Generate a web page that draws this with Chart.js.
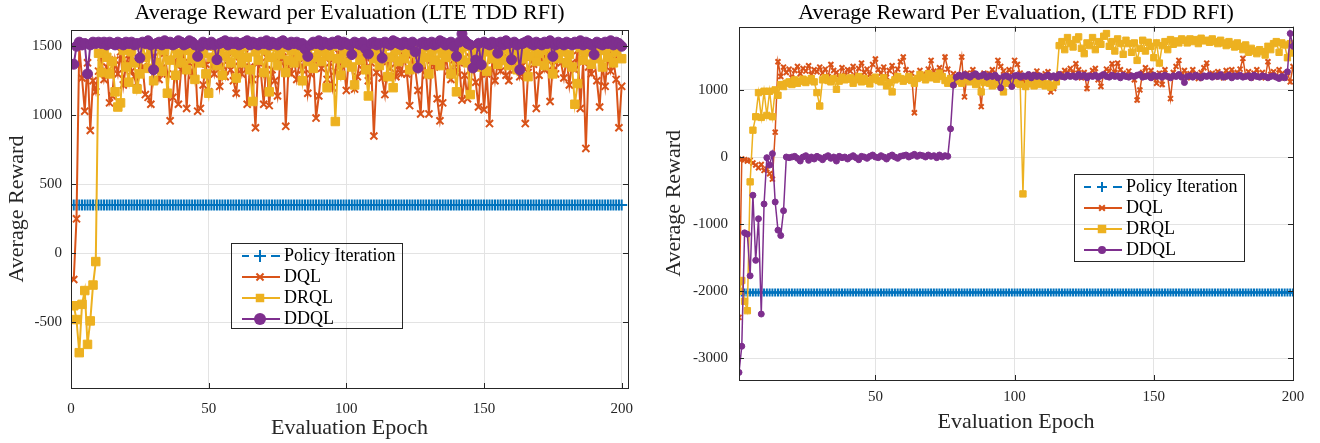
<!DOCTYPE html>
<html>
<head>
<meta charset="utf-8">
<script src="https://cdn.jsdelivr.net/npm/chart.js@4.4.1/dist/chart.umd.min.js"></script>
<style>
  body { margin: 0; background: #fff; }
  .panel { position: absolute; top: 0; width: 660px; height: 443px; }
</style>
</head>
<body>
<div class="panel" style="left:0"><canvas id="tddChart" width="660" height="443"></canvas></div>
<div class="panel" style="left:660px"><canvas id="fddChart" width="660" height="443"></canvas></div>
<script>
// evaluation epochs 1..200
const epochs = Array.from({ length: 200 }, (_, i) => i + 1);
const seriesNames = ["Policy Iteration", "DQL", "DRQL", "DDQL"];

// ---- LTE TDD RFI ----
const tddPolicyLevel = 350;
const tddDql = [
  -190, 250, 1500, 1270, 1030, 1380, 890, 1250, 1170, 1320,
  1420, 1260, 1350, 1090, 1140, 1400, 1300, 1460, 1220, 1370,
  1440, 1320, 1280, 1200, 1410, 1350, 1150, 1130, 1080, 1460,
  1390, 1260, 1340, 1450, 1300, 960, 1130, 1400, 1080, 1330,
  1470, 1050, 1380, 1290, 1420, 1030, 1050, 1220, 1370, 1170,
  1400, 1300, 1450, 1210, 1360, 1280, 1420, 1330, 1250, 1160,
  1390, 1300, 1440, 1080, 1350, 1260, 910, 1380, 1300, 1080,
  1420, 1070, 1330, 1250, 1140, 1390, 1460, 920, 1350, 1300,
  1420, 1260, 1380, 1330, 1450, 1160, 1300, 1400, 980, 1140,
  1340, 1430, 1260, 1380, 1200, 1320, 1450, 1290, 1390, 1180,
  1430, 1350, 1190, 1280, 1420, 1330, 1460, 1250, 1380, 850,
  1310, 1420, 1270, 1150, 1390, 1340, 1460, 1280, 1360, 1300,
  1430, 1300, 1070, 1400, 1340, 1180, 1010, 1420, 1290, 1010,
  1400, 1350, 1120, 960, 1090, 1440, 1320, 1260, 1400, 1310,
  1380, 1110, 1290, 1120, 1420, 1350, 1240, 1060, 1380, 1040,
  1300, 940, 1400, 1250, 1380, 1320, 1450, 1290, 1250, 1400,
  1330, 1430, 1280, 1360, 940, 1310, 1420, 1370, 1050, 1290,
  1400, 1330, 1450, 1100, 1360, 1300, 1440, 1380, 1270, 1420,
  1220, 1380, 1330, 1470, 1050, 1390, 760, 1350, 1300, 1420,
  1250, 1060, 1380, 1210, 1440, 1320, 1400, 1260, 910, 1210,
];
const tddDrql = [
  -380, -480, -720, -370, -270, -660, -490, -230, -60, 1450,
  1310, 1480, 1420, 1300, 1390, 1170, 1060, 1090, 1470, 1350,
  1240, 1460, 1380, 1190, 1300, 1510, 1420, 1340, 1480, 1250,
  1380, 1500, 1320, 1470, 1160, 1400, 1510, 1290, 1450, 1380,
  1500, 1330, 1470, 1410, 1260, 1490, 1380, 1450, 1300, 1160,
  1420, 1500, 1360, 1470, 1290, 1430, 1500, 1380, 1470, 1270,
  1440, 1380, 1500, 1420, 1330, 1100, 1460, 1400, 1500, 1310,
  1470, 1170, 1420, 1500, 1360, 1440, 1490, 1310, 1400, 1470,
  1380, 1500, 1430, 1250, 1460, 1390, 1500, 1340, 1420, 1480,
  1390, 1460, 1200, 1430, 1500, 955, 1410, 1290, 1470, 1380,
  1460, 1350, 1220, 1480, 1400, 1500, 1330, 1140, 1450, 1410,
  1490, 1360, 1440, 1500, 1280, 1420, 1200, 1470, 1390, 1500,
  1410, 1460, 1330, 1500, 1340, 1440, 1380, 1490, 1420, 1300,
  1470, 1400, 1500, 1360, 1450, 1420, 1490, 1300, 1430, 1170,
  1460, 1400, 1500, 1380, 1150, 1440, 1490, 1350, 1420, 1460,
  1320, 1480, 1410, 1500, 1370, 1450, 1400, 1490, 1360, 1440,
  1500, 1330, 1460, 1410, 1490, 1280, 1430, 1500, 1390, 1450,
  1470, 1360, 1500, 1420, 1300, 1480, 1410, 1460, 1500, 1380,
  1440, 1350, 1080, 1230, 1490, 1400, 1460, 1500, 1370, 1450,
  1410, 1490, 1350, 1470, 1420, 1500, 1380, 1460, 1500, 1410,
];
const tddDdql = [
  1370, 1500, 1530, 1510, 1520, 1300, 1510, 1530, 1520, 1530,
  1520, 1530, 1510, 1530, 1520, 1510, 1530, 1520, 1510, 1530,
  1520, 1530, 1510, 1520, 1415, 1530, 1520, 1540, 1510, 1330,
  1520, 1530, 1510, 1540, 1520, 1530, 1510, 1520, 1540, 1530,
  1510, 1520, 1540, 1530, 1510, 1427, 1500, 1530, 1520, 1510,
  1530, 1510, 1403, 1520, 1530, 1540, 1510, 1530, 1520, 1530,
  1510, 1520, 1530, 1540, 1510, 1530, 1520, 1510, 1530, 1520,
  1540, 1510, 1530, 1520, 1510, 1530, 1540, 1520, 1510, 1530,
  1520, 1530, 1510, 1520, 1480, 1427, 1510, 1530, 1520, 1540,
  1510, 1530, 1520, 1510, 1530, 1520, 1540, 1510, 1530, 1520,
  1510, 1440, 1530, 1520, 1510, 1530, 1480, 1444, 1520, 1530,
  1510, 1520, 1415, 1530, 1520, 1510, 1540, 1530, 1520, 1510,
  1530, 1520, 1510, 1530, 1460, 1343, 1520, 1530, 1510, 1520,
  1530, 1510, 1520, 1540, 1530, 1510, 1520, 1530, 1500, 1427,
  1530, 1590, 1540, 1520, 1510, 1343, 1400, 1520, 1367, 1530,
  1520, 1510, 1530, 1520, 1450, 1530, 1510, 1540, 1520, 1403,
  1530, 1510, 1330, 1520, 1530, 1540, 1520, 1510, 1530, 1520,
  1510, 1530, 1520, 1540, 1427, 1510, 1530, 1520, 1510, 1530,
  1520, 1510, 1530, 1520, 1540, 1510, 1530, 1520, 1510, 1440,
  1530, 1520, 1510, 1530, 1520, 1540, 1510, 1530, 1520, 1500,
];
const tddXTicks = [0, 50, 100, 150, 200];
const tddYTicks = [-500, 0, 500, 1000, 1500];

// ---- LTE FDD RFI ----
const fddPolicyLevel = -2020;
const fddDql = [
  -2390, -30, -40, -60, -50, -90, -120, -160, -110, -200,
  -180, -250, -330, 370, 1420, 1200, 1340, 1260, 1310, 1180,
  1290, 1350, 1240, 1320, 1280, 1360, 1230, 1300, 1270, 1340,
  1250, 1310, 1200, 1380, 1290, 1260, 1180, 1330, 1220, 1300,
  1280, 1350, 1210, 1320, 1400, 1260, 1310, 1230, 1380, 1460,
  1300, 1250, 1340, 1190, 1290, 1360, 1220, 1310, 1420, 1490,
  1300, 1150, 1250, 660, 1180, 1290, 1230, 1160, 1310, 1440,
  1280, 1200, 1330, 1260, 1490, 1310, 1180, 1240, 1140, 1220,
  1490, 896, 1250, 1180, 1300, 1220, 1160, 750, 1250, 1190,
  1240, 1300, 1200, 1440, 1350, 1280, 1210, 1300, 1260, 1440,
  1380, 1250, 1150, 1050, 1100, 1230, 1180, 1280, 1210, 1160,
  1240, 1270, 970, 1020, 1160, 1240, 1200, 1290, 1260, 1320,
  1250, 1390, 1300, 1180, 1260, 1020, 1220, 1290, 1320, 1150,
  1050, 1230, 1310, 1280, 1390, 1260, 1400, 1300, 1250, 1220,
  1280, 1200, 1150, 850, 1000, 1260, 1330, 1220, 1290, 1180,
  1100, 1250, 1080, 1300, 1200, 870, 1260, 1350, 1440, 1210,
  1290, 1180, 1240, 1300, 1230, 1170, 1260, 1330, 1400, 1210,
  1250, 1190, 1270, 1230, 1180, 1290, 1240, 1300, 1220, 1260,
  1310, 1470, 1210, 1270, 1180, 1250, 1300, 1200, 1260, 1180,
  1420, 1230, 1270, 1190, 1300, 1240, 1180, 1260, 1120, 1350,
];
const fddDrql = [
  -2000, -1840, -2150, -2290, -370, 400, 600, 960, 590, 980,
  620, 980, 600, 1000, 920, 1080, 1050, 1100, 1120, 1080,
  1150, 1100, 1130, 1160, 1110, 1140, 1170, 1120, 960, 760,
  1150, 1180, 1140, 1120, 1170, 1010, 1130, 1190, 1150, 1160,
  1180, 1100, 1150, 1200, 1120, 1170, 1130, 1090, 1160, 1190,
  1140, 1120, 1180, 1060, 1110, 970, 1150, 1200, 1170, 1130,
  1160, 1200, 1140, 1100, 1170, 1230, 1190, 1150, 1240, 1180,
  1210, 1160, 1250, 1200, 1140, 1100, 1170, 1090, 1130, 1160,
  1100, 1150, 1190, 1120, 1170, 1080, 1140, 970, 1110, 1150,
  1100, 1060, 1120, 1080, 1150, 970, 1100, 1130, 1090, 1120,
  1100, 1080, -550, 1050, 1120, 1090, 1060, 1110, 1080, 1100,
  1060, 1090, 1040, 1070, 1120, 1660, 1720, 1600, 1780, 1690,
  1640, 1750, 1790, 1620, 1540, 1700, 1660, 1780, 1600, 1720,
  1680, 1800, 1840, 1650, 1720, 1580, 1760, 1690, 1530, 1740,
  1690, 1560, 1700, 1440, 1620, 1740, 1580, 1710, 1650, 1480,
  1700, 1400, 1660, 1720, 1600, 1750, 1680, 1730, 1700, 1760,
  1740, 1700, 1760, 1720, 1750, 1690, 1770, 1730, 1740, 1710,
  1760, 1720, 1690, 1740, 1700, 1660, 1720, 1680, 1640, 1700,
  1650, 1600, 1670, 1560, 1620, 1580, 1540, 1600, 1570, 1520,
  1650, 1600, 1690, 1720, 1560, 1700, 1670, 1480, 1690, 1550,
];
const fddDdql = [
  -3210, -2820, -1130, -1150, -1770, -570, -1540, -920, -2340, -700,
  -10, -120, 50, -670, -1090, -1170, -800, 0, -10, 0,
  10, -20, -60, 0, 20, -50, 0, -30, 10, -10,
  -40, 0, 20, -20, 0, -60, 10, -10, 0, -30,
  0, 20, -10, -40, 10, 0, -20, 10, 30, 0,
  -10, 20, 0, -30, 10, 30, 0, -20, 10, 20,
  30, 0, 20, 40, 10, 30, 20, 0, 30, 10,
  20, -10, 30, 0, 20, 10, 420, 1070, 1190, 1220,
  1200, 1230, 1210, 1190, 1220, 1240, 1200, 1210, 1230, 1190,
  1210, 1200, 1220, 1180, 1030, 1200, 1210, 1190, 1050, 1210,
  1220, 1190, 1210, 1200, 1230, 1180, 1220, 1200, 1210, 1190,
  1200, 1220, 1190, 1210, 1180, 1230, 1200, 1190, 1220, 1200,
  1210, 1190, 1230, 1200, 1220, 1180, 1210, 1200, 1220, 1190,
  1210, 1230, 1200, 1190, 1220, 1200, 1210, 1180, 1220, 1200,
  1190, 1210, 1200, 1220, 1230, 1190, 1200, 1210, 1180, 1220,
  1200, 1210, 1190, 1220, 1200, 1180, 1210, 1200, 1230, 1190,
  1110, 1200, 1210, 1190, 1220, 1200, 1180, 1210, 1200, 1220,
  1190, 1210, 1200, 1230, 1190, 1200, 1220, 1180, 1210, 1200,
  1220, 1190, 1200, 1210, 1180, 1220, 1200, 1190, 1210, 1200,
  1180, 1200, 1210, 1190, 1170, 1200, 1180, 1270, 1840, 1650,
];
const fddXTicks = [50, 100, 150, 200];
const fddYTicks = [-3000, -2000, -1000, 0, 1000];

const colors = ["#0072BD", "#D95319", "#EDB120", "#7E2F8E"];
const styles = ["cross", "crossRot", "rect", "circle"];
const serif = "'Liberation Serif', 'DejaVu Serif', serif";
const axisInk = "#262626";

// small line + marker picture for the legend
function legendIcon(color, style, radius, lineWidth, dashed) {
  const c = document.createElement("canvas");
  c.width = 42;
  c.height = 16;
  const ctx = c.getContext("2d");
  ctx.strokeStyle = color;
  ctx.fillStyle = color;
  ctx.lineWidth = lineWidth;
  ctx.beginPath();
  if (dashed) {
    ctx.moveTo(1, 8); ctx.lineTo(10, 8);
    ctx.moveTo(32, 8); ctx.lineTo(41, 8);
  } else {
    ctx.moveTo(1, 8); ctx.lineTo(41, 8);
  }
  ctx.stroke();
  const cx = 21, cy = 8;
  ctx.beginPath();
  if (style === "cross") {
    ctx.moveTo(cx - radius, cy); ctx.lineTo(cx + radius, cy);
    ctx.moveTo(cx, cy - radius); ctx.lineTo(cx, cy + radius);
    ctx.stroke();
  } else if (style === "crossRot") {
    const d = radius * Math.SQRT1_2;
    ctx.moveTo(cx - d, cy - d); ctx.lineTo(cx + d, cy + d);
    ctx.moveTo(cx - d, cy + d); ctx.lineTo(cx + d, cy - d);
    ctx.stroke();
  } else if (style === "rect") {
    const s = radius * Math.SQRT1_2;
    ctx.rect(cx - s, cy - s, 2 * s, 2 * s);
    ctx.fill();
  } else {
    ctx.arc(cx, cy, radius, 0, Math.PI * 2);
    ctx.fill();
  }
  return c;
}

// MATLAB style box, inward ticks, and a framed legend at a fixed spot
const matlabBox = {
  id: "matlabBox",
  beforeDraw(chart, args, opts) {
    const lg = chart.legend;
    lg.left = opts.legendAt[0];
    lg.top = opts.legendAt[1];
    lg.right = lg.left + 220;
    lg.bottom = lg.top + 110;
  },
  afterDatasetsDraw(chart, args, opts) {
    const { ctx, chartArea: a, scales } = chart;
    ctx.save();
    ctx.strokeStyle = axisInk;
    ctx.lineWidth = 1;
    ctx.beginPath();
    scales.x.ticks.forEach((t) => {
      const px = Math.round(scales.x.getPixelForValue(t.value)) + 0.5;
      ctx.moveTo(px, a.bottom); ctx.lineTo(px, a.bottom - 5);
      ctx.moveTo(px, a.top); ctx.lineTo(px, a.top + 5);
    });
    scales.y.ticks.forEach((t) => {
      const py = Math.round(scales.y.getPixelForValue(t.value)) + 0.5;
      ctx.moveTo(a.left, py); ctx.lineTo(a.left + 5, py);
      ctx.moveTo(a.right, py); ctx.lineTo(a.right - 5, py);
    });
    ctx.stroke();
    ctx.strokeRect(Math.round(a.left) + 0.5, Math.round(a.top) + 0.5,
      Math.round(a.width), Math.round(a.height));
    const b = opts.legendBox;
    ctx.strokeRect(b[0] + 0.5, b[1] + 0.5, b[2], b[3]);
    ctx.restore();
  },
};

function buildChart(id, setup) {
  const series = [setup.policy, setup.dql, setup.drql, setup.ddql];
  const icons = series.map((_, i) =>
    legendIcon(colors[i], styles[i], setup.iconRadius[i], 2, i === 0)
  );
  const datasets = series.map((vals, i) => ({
    label: seriesNames[i],
    data: epochs.map((e, k) => ({ x: e, y: vals[k] })),
    borderColor: colors[i],
    backgroundColor: colors[i],
    pointBackgroundColor: colors[i],
    pointBorderColor: colors[i],
    pointStyle: styles[i],
    pointRadius: setup.radius[i],
    pointBorderWidth: i < 2 ? 2 : 1,
    borderWidth: setup.lineWidth,
    borderDash: i === 0 ? [6, 4] : [],
    tension: 0,
    fill: false,
    order: 4 - i,
  }));

  return new Chart(document.getElementById(id), {
    type: "line",
    data: { datasets },
    plugins: [matlabBox],
    options: {
      responsive: false,
      animation: false,
      events: [],
      layout: { padding: { left: 0, right: setup.padRight, top: 0, bottom: 0 } },
      plugins: {
        title: {
          display: true,
          text: setup.title,
          fullSize: false,
          color: "#000",
          font: { family: serif, size: 22, weight: "normal" },
          padding: setup.titlePad,
        },
        legend: {
          position: "chartArea",
          align: "start",
          labels: {
            usePointStyle: true,
            pointStyleWidth: 30,
            padding: 3,
            color: "#000",
            font: { family: serif, size: 18 },
            sort: (a, b) => a.datasetIndex - b.datasetIndex,
            generateLabels: (chart) => {
              const items = Chart.defaults.plugins.legend.labels.generateLabels(chart);
              items.forEach((it) => { it.pointStyle = icons[it.datasetIndex]; });
              return items;
            },
          },
        },
        tooltip: { enabled: false },
        matlabBox: { legendAt: setup.legendAt, legendBox: setup.legendBox },
      },
      scales: {
        x: {
          type: "linear",
          min: setup.xRange[0],
          max: setup.xRange[1],
          afterBuildTicks: (s) => { s.ticks = setup.xTicks.map((v) => ({ value: v })); },
          afterFit: (s) => { s.height = setup.xHeight; },
          grid: { color: "#e3e3e3", drawTicks: false },
          border: { display: false },
          ticks: {
            padding: setup.xTickPad,
            color: axisInk,
            maxRotation: 0,
            autoSkip: false,
            font: { family: serif, size: 15 },
            callback: (v) => String(v),
          },
          title: {
            display: true,
            text: "Evaluation Epoch",
            color: axisInk,
            font: { family: serif, size: 22 },
            padding: { top: 0, bottom: setup.xTitlePad },
          },
        },
        y: {
          type: "linear",
          min: setup.yRange[0],
          max: setup.yRange[1],
          afterBuildTicks: (s) => { s.ticks = setup.yTicks.map((v) => ({ value: v })); },
          afterFit: (s) => { s.width = setup.yWidth; },
          grid: { color: "#e3e3e3", drawTicks: false },
          border: { display: false },
          ticks: {
            padding: setup.yTickPad,
            color: axisInk,
            font: { family: serif, size: 15 },
            callback: (v) => String(v),
          },
          title: {
            display: true,
            text: "Average Reward",
            color: axisInk,
            font: { family: serif, size: 22 },
            padding: { top: setup.yTitlePad, bottom: 0 },
          },
        },
      },
    },
  });
}

const tddChart = buildChart("tddChart", {
  title: "Average Reward per Evaluation (LTE TDD RFI)",
  policy: epochs.map(() => tddPolicyLevel),
  dql: tddDql,
  drql: tddDrql,
  ddql: tddDdql,
  xTicks: tddXTicks,
  yTicks: tddYTicks,
  xRange: [0, 202.3],
  yRange: [-976, 1618],
  radius: [5.5, 5, 6, 5],
  iconRadius: [6, 5, 6, 6],
  lineWidth: 2,
  padRight: 32,
  yWidth: 71,
  xHeight: 55,
  titlePad: { top: 0, bottom: 3.6 },
  xTickPad: 12,
  yTickPad: 9,
  xTitlePad: 2,
  yTitlePad: 4,
  legendAt: [242, 244],
  legendBox: [231, 243, 171, 85],
});

const fddChart = buildChart("fddChart", {
  title: "Average Reward Per Evaluation, (LTE FDD RFI)",
  policy: epochs.map(() => fddPolicyLevel),
  dql: fddDql,
  drql: fddDrql,
  ddql: fddDdql,
  xTicks: fddXTicks,
  yTicks: fddYTicks,
  xRange: [1, 200],
  yRange: [-3323, 1942],
  radius: [4, 3.5, 4.5, 3],
  iconRadius: [5, 4, 6, 4],
  lineWidth: 1.5,
  padRight: 27,
  yWidth: 79,
  xHeight: 63,
  titlePad: { top: 0, bottom: 0.3 },
  xTickPad: 8.5,
  yTickPad: 11,
  xTitlePad: 8,
  yTitlePad: 1.5,
  legendAt: [424, 175],
  legendBox: [414, 174, 170, 87],
});
</script>
</body>
</html>
